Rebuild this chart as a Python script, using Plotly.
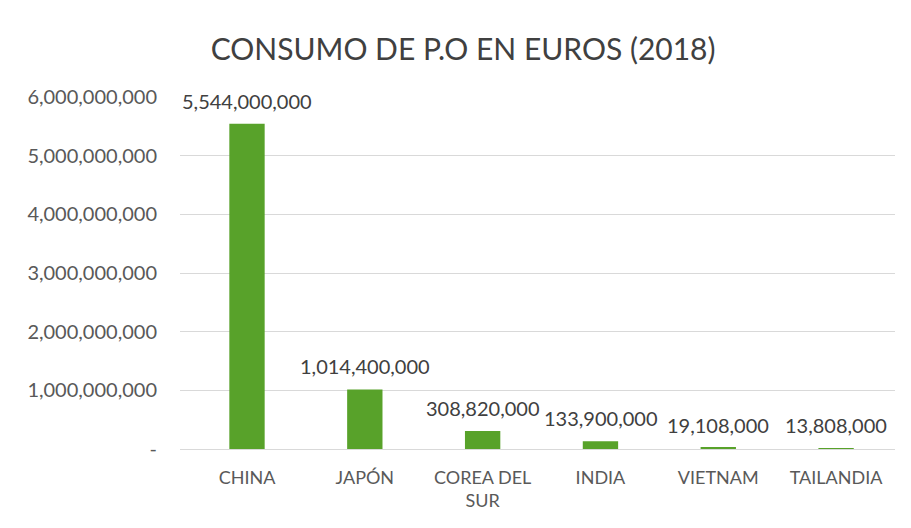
import plotly.graph_objects as go

categories = ["CHINA", "JAPÓN", "COREA DEL<br>SUR", "INDIA", "VIETNAM", "TAILANDIA"]
values = [5544000000, 1014400000, 308820000, 133900000, 19108000, 13808000]
tick_vals = [0, 1e9, 2e9, 3e9, 4e9, 5e9, 6e9]
tick_text = ["-", "1,000,000,000", "2,000,000,000", "3,000,000,000",
             "4,000,000,000", "5,000,000,000", "6,000,000,000"]
title = "CONSUMO DE P.O EN EUROS (2018)"

font_family = "Lato, Open Sans, sans-serif"

fig = go.Figure(go.Bar(
    x=categories,
    y=values,
    marker=dict(color="#58A22A", line=dict(width=0)),
))

for c, v in zip(categories, values):
    fig.add_annotation(
        x=c, y=v, text=f"{v:,}", showarrow=False,
        yanchor="middle", yshift=23,
        font=dict(family=font_family, size=20, color="#404040"),
    )

fig.update_layout(
    width=903, height=520,
    paper_bgcolor="white", plot_bgcolor="white",
    margin=dict(l=172, r=16, t=89, b=79),
    bargap=0.7,
    showlegend=False,
    title=dict(text=title, x=0.504, xanchor="center", y=0.921, yanchor="middle",
               font=dict(family=font_family, size=30, color="#404040")),
    font=dict(family=font_family, color="#595959"),
)
fig.update_yaxes(
    range=[0, 6e9], tickvals=tick_vals, ticktext=tick_text,
    showgrid=True, gridcolor="#d9d9d9", gridwidth=1,
    zeroline=False, showline=False, ticks="",
    tickfont=dict(family=font_family, size=20, color="#595959"),
    ticklabelstandoff=22,
)
fig.update_xaxes(
    showgrid=False, showline=True, linecolor="#d9d9d9", ticks="",
    tickfont=dict(family=font_family, size=18, color="#595959"),
    ticklabelstandoff=12,
)

fig.write_html("out.html")
